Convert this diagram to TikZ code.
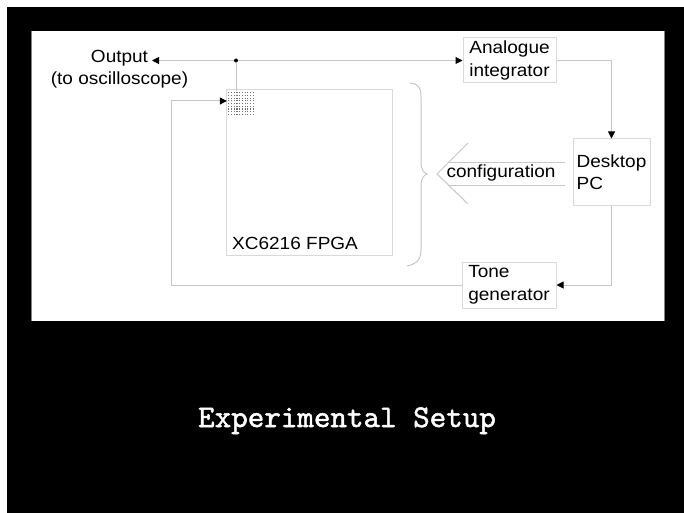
\documentclass[tikz,border=0pt]{standalone}
\usepackage{fontspec}
\newfontfamily\lab[FakeStretch=1.08]{Liberation Sans}
\newfontfamily\ttl[FakeBold=1.6]{lmmono10-regular.otf}
\usetikzlibrary{arrows.meta}
\begin{document}
\begin{tikzpicture}[x=1pt,y=-1pt,
  wire/.style={draw=black!22, line width=1pt},
  tipb/.style={-{Triangle[length=7pt,width=7pt,color=black]}},
  txt/.style={font=\lab\fontsize{17.6}{22.5}\selectfont},
  box/.style={txt, draw=black!15, line width=1pt, fill=white, inner sep=0pt, align=left},
  lbl/.style={txt, inner sep=0pt}]
\useasboundingbox (0,0) rectangle (684,513);
\fill[white] (0,0) rectangle (684,513);
\fill[black] (7,7) rectangle (684,513);
\fill[white] (31,31) rectangle (665,321);
\draw[black!50, line width=0.7pt] (31.3,31) -- (31.3,321);
\draw[black!50, line width=0.7pt] (664.7,31) -- (664.7,321);

% boxes
\node[box, minimum width=93pt, minimum height=45pt] (integ) at (509.5,60.5) {Analogue\\integrator};
\node[box, minimum width=77pt, minimum height=66pt] (pc) at (611.5,172) {Desktop\\PC};
\node[box, minimum width=94pt, minimum height=46pt] (tone) at (509,285) {Tone\\generator};
\node[draw=black!15, line width=1pt, minimum width=166pt, minimum height=165pt, inner sep=0pt] (fpga) at (309,172.5) {};
\node[lbl, anchor=base west] (fpgalbl) at (232,249) {XC6216 FPGA};

% cell grid
\node[minimum width=26pt, minimum height=25pt, inner sep=0pt] (cell) at (240,103.5) {};
\foreach \i in {0,...,9} \foreach \j in {0,...,8}
  \fill[black!55] (228.3+\i*2.7, 92.3+\j*2.7) rectangle ++(1.1,1.1);

% output label
\node[lbl, align=center] (outlbl) at (119.5,69) {Output\\(to oscilloscope)};
\coordinate (outtip) at (152,60.5);
\node[circle, fill=black, inner sep=0pt, minimum size=4pt] (dot) at (236,60.5) {};

% wires
\draw[wire, tipb] (dot) -- (outtip);
\draw[wire, tipb] (dot) -- (integ.west);
\draw[wire] (dot) -- (dot |- cell.north);
\draw[wire, tipb] (integ.east) -| (pc.north);
\draw[wire, tipb] (pc.south) |- (tone.east);
\coordinate (fbcorner) at (171,101);
\draw[wire, tipb] (tone.west) -| (fbcorner) -- (cell.west |- fbcorner);

% brace
\draw[wire] (410,83) .. controls (419,84) and (421,88) .. (421,97) -- (421,162)
  .. controls (421,170) and (424,173) .. (427,174)
  .. controls (424,175) and (421,178) .. (421,186) -- (421,250)
  .. controls (421,260) and (416,264) .. (407,266);

% configuration arrow
\draw[wire] (468,143) -- (437,174) -- (468,204);
\draw[wire] (449,162) -- (565,162);
\draw[wire] (448,185) -- (565,185);
\node[lbl] (cfg) at (501,173) {configuration};

% title
\node[font=\ttl\fontsize{31.5}{31.5}\selectfont, text=white, anchor=base, inner sep=0pt] (title) at (347,427) {Experimental Setup};
\end{tikzpicture}
\end{document}
